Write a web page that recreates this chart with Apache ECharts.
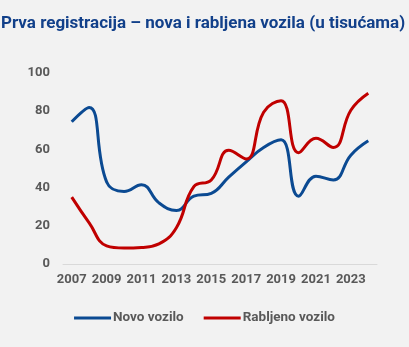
<!DOCTYPE html>
<html><head><meta charset="utf-8">
<script src="https://cdn.jsdelivr.net/npm/echarts@6/dist/echarts.min.js"></script>
<style>html,body{margin:0;padding:0;background:#f2f2f2;}#c{width:409px;height:347px;}</style>
</head><body><div id="c"></div>
<script>
var years = ['2007','2008','2009','2010','2011','2012','2013','2014','2015','2016','2017','2018','2019','2020','2021','2022','2023','2024'];
var novo = [74.5, 82, 43, 38, 41.5, 32, 28, 35.5, 37, 45.5, 53.5, 61, 65, 35.5, 46, 44, 57, 64.5];
var rabljeno = [35, 21.5, 9.5, 8.4, 8.7, 10.5, 19, 40.5, 44, 59.5, 55, 79.5, 85.5, 58.3, 65.8, 61, 80.5, 89.4];
var yTicks = [0, 20, 40, 60, 80, 100];

var chart = echarts.init(document.getElementById('c'));
chart.setOption({
  backgroundColor: '#f2f2f2',
  animation: false,
  title: {
    text: 'Prva registracija – nova i rabljena vozila (u tisućama)',
    left: -4, top: 10,
    textStyle: {fontFamily: 'Roboto', fontWeight: 'bold', fontSize: 17, color: '#12408a'}
  },
  grid: {left: 63, right: 32, top: 73, bottom: 83, containLabel: false},
  xAxis: {
    type: 'category', data: years, boundaryGap: true,
    axisLine: {lineStyle: {color: '#d9d9d9', width: 1}},
    axisTick: {show: false},
    axisLabel: {interval: 1, color: '#595959', fontFamily: 'Roboto', fontWeight: 'bold', fontSize: 13, margin: 9}
  },
  yAxis: {
    type: 'value', min: yTicks[0], max: yTicks[yTicks.length - 1], interval: 20,
    axisLine: {show: false}, axisTick: {show: false}, splitLine: {show: false},
    axisLabel: {color: '#595959', fontFamily: 'Roboto', fontWeight: 'bold', fontSize: 13, margin: 13}
  },
  legend: {
    bottom: 17, left: 'center', itemGap: 20, itemWidth: 37, itemHeight: 3,
    icon: 'rect',
    textStyle: {color: '#595959', fontFamily: 'Roboto', fontWeight: 'bold', fontSize: 13.5, padding: [0,0,0,-3]},
    data: ['Novo vozilo', 'Rabljeno vozilo']
  },
  series: [
    {name: 'Novo vozilo', type: 'line', data: novo, smooth: 0.45, symbol: 'none',
     lineStyle: {color: '#0b4a92', width: 3}, itemStyle: {color: '#0b4a92'}},
    {name: 'Rabljeno vozilo', type: 'line', data: rabljeno, smooth: 0.45, symbol: 'none',
     lineStyle: {color: '#c00000', width: 3}, itemStyle: {color: '#c00000'}}
  ]
});
</script></body></html>
